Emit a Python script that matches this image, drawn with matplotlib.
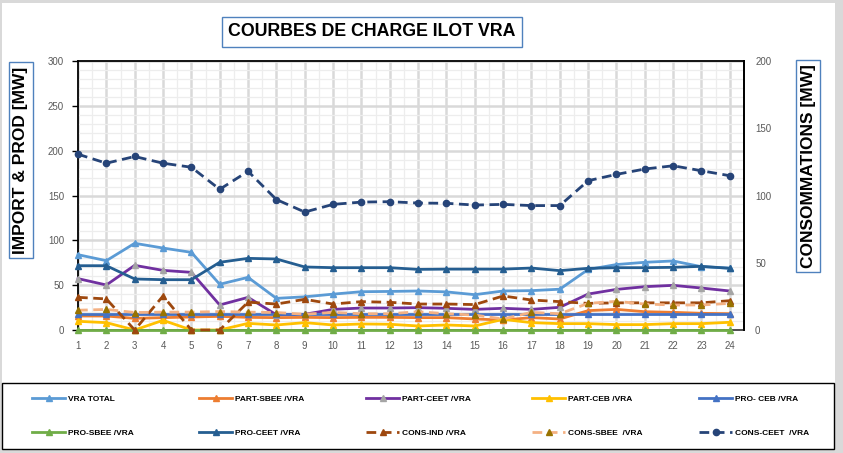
import matplotlib
matplotlib.use('Agg')
import matplotlib.pyplot as plt
from matplotlib.patches import Rectangle
import numpy as np

# ---------------- data ----------------
hours = list(range(1, 25))

vra_total = [84, 77.3, 96.7, 91.4, 86.6, 51, 58.7, 35.3, 37, 40, 42.7, 43, 43.5, 42.5,
             39.4, 43.5, 43.9, 45.5, 67.5, 73, 75.5, 77, 70.6, 69]
part_sbee = [15.6, 15.6, 13, 13.8, 14.5, 15.2, 14.1, 13.8, 14.1, 13.8, 14.1, 14.1, 13.8, 13.8,
             12.3, 11.1, 13.8, 12.3, 21.6, 23, 20.4, 19.7, 18.6, 18.2]
part_ceet = [57.3, 50.2, 72.1, 66.5, 64.3, 27.9, 36.4, 17, 17.5, 23, 24.5, 24.5, 24.9, 24.2,
             23, 24.2, 23, 25.3, 40.1, 45.3, 48.3, 49.8, 46.8, 43.5]
part_ceb = [9.7, 8.2, 0, 10.8, 0, 0, 7.4, 5.6, 8.2, 5.6, 6.7, 6.4, 4.5, 5.6,
            4.5, 11.9, 8.2, 7.1, 7.1, 6, 6, 7.1, 7.1, 8.6]
pro_ceb = [17.5, 17.5, 17.5, 17.5, 17.5, 17.5, 17.5, 17.5, 17.5, 17.5, 17.5, 17.5, 17.5, 17.5,
           17.5, 17.5, 17.5, 17.5, 17.5, 17.5, 17.5, 17.5, 17.5, 17.5]
pro_sbee = [0, 0, 0, 0, 0, 0, 0, 0, 0, 0, 0, 0, 0, 0, 0, 0, 0, 0, 0, 0, 0, 0, 0, 0]
pro_ceet = [71.7, 71.7, 56.9, 56.1, 56.1, 75.5, 79.9, 79.2, 70.3, 69.5, 69.5, 69.5, 67.6, 67.9,
            67.9, 67.9, 69.1, 66.2, 68.8, 69.5, 69.5, 69.9, 71, 68.8]

# secondary axis (consommations)
cons_ind = [24.3, 23.1, 0, 25.3, 0, 0, 20.7, 19.3, 22.8, 19.3, 21.1, 20.6, 19.3, 19.3,
            18.9, 25.3, 22.3, 21.1, 19.8, 20.2, 20.2, 20.2, 20.2, 21.8]
cons_sbee = [14.7, 15.3, 13, 13.3, 13.3, 13.7, 13.3, 13, 11.7, 13.1, 12.1, 12.1, 13.6, 12.1,
             11.1, 8.2, 13.1, 12.1, 19.8, 21.3, 19.3, 18.6, 18.6, 19.8]
cons_ceet = [130.7, 124, 129, 124, 121, 104.6, 118, 97, 87.7, 93.4, 95.1, 95.4, 94.4, 94.2,
             92.9, 93.4, 92.5, 92.5, 111, 115.7, 119.7, 122.1, 118.4, 114.7]

labels = ['VRA TOTAL', 'PART-SBEE /VRA', 'PART-CEET /VRA', 'PART-CEB /VRA', 'PRO- CEB /VRA',
          'PRO-SBEE /VRA', 'PRO-CEET /VRA', 'CONS-IND /VRA', 'CONS-SBEE  /VRA', 'CONS-CEET  /VRA']
left_ticks = [0, 50, 100, 150, 200, 250, 300]
right_ticks = [0, 50, 100, 150, 200]

title = 'COURBES DE CHARGE ILOT VRA'
ylabel_left = 'IMPORT & PROD [MW]'
ylabel_right = 'CONSOMMATIONS [MW]'

# ---------------- figure ----------------
plt.rcParams['font.family'] = ['Liberation Sans', 'DejaVu Sans']
W, H = 843, 453
fig = plt.figure(figsize=(W / 100, H / 100), dpi=100, facecolor='#D9D9D9')

def fx(px):
    return px / W

def fy(py):
    return 1 - py / H

fig.patches.append(Rectangle((fx(2), fy(449)), fx(833), 446 / H, transform=fig.transFigure,
                             facecolor='white', edgecolor='none', zorder=-10))
# legend frame
fig.patches.append(Rectangle((fx(2), fy(449)), fx(832), 66 / H, transform=fig.transFigure,
                             facecolor='none', edgecolor='black', lw=1.0, zorder=-5))

ax = fig.add_axes([fx(78), fy(330), (744 - 78) / W, (330 - 61) / H])
ax.set_facecolor('white')
ax2 = ax.twinx()

lw = 2.0
ms = 4.5
dash = (3.5, 2.0)

styles_left = [
    (vra_total, dict(color='#5B9BD5', marker='^', mfc='#5B9BD5', mec='#5B9BD5')),
    (part_sbee, dict(color='#ED7D31', marker='^', mfc='#ED7D31', mec='#ED7D31')),
    (part_ceet, dict(color='#7030A0', marker='^', mfc='#A5A5A5', mec='#A5A5A5')),
    (part_ceb, dict(color='#FFC000', marker='^', mfc='#FFC000', mec='#FFC000')),
    (pro_ceb, dict(color='#4472C4', marker='^', mfc='#4472C4', mec='#4472C4')),
    (pro_sbee, dict(color='#70AD47', marker='^', mfc='#70AD47', mec='#70AD47')),
    (pro_ceet, dict(color='#255E91', marker='^', mfc='#255E91', mec='#255E91')),
]
styles_right = [
    (cons_ind, dict(color='#9E480E', marker='^', mfc='#9E480E', mec='#9E480E', dashes=dash)),
    (cons_sbee, dict(color='#F4B183', marker='^', mfc='#997300', mec='#997300', dashes=dash)),
    (cons_ceet, dict(color='#264478', marker='o', mfc='#264478', mec='#264478', dashes=dash)),
]

handles = []
for (vals, st), lab in zip(styles_left, labels[:7]):
    h, = ax.plot(hours, vals, lw=lw, ms=ms, label=lab, clip_on=False, zorder=3, **st)
    handles.append(h)
for (vals, st), lab in zip(styles_right, labels[7:]):
    h, = ax2.plot(hours, vals, lw=lw, ms=ms, label=lab, clip_on=False, zorder=3, **st)
    handles.append(h)

ax.set_xlim(1, 24.5)
ax.set_ylim(0, 300)
ax2.set_ylim(0, 200)

ax.set_xticks(hours)
ax.set_xticks(np.arange(1.5, 24.5, 1), minor=True)
ax.set_yticks(left_ticks)
ax.set_yticks(np.arange(0, 301, 10), minor=True)
ax2.set_yticks(right_ticks)

ax.grid(True, which='major', color='#D9D9D9', lw=1.8, zorder=0)
ax.grid(True, which='minor', color='#EDEDED', lw=0.9, zorder=0)
ax.set_axisbelow(True)

tick_color = '#595959'
ax.tick_params(axis='x', which='both', length=0, pad=8, labelsize=7, labelcolor=tick_color)
ax.tick_params(axis='y', which='major', length=4, width=1, color='black', pad=6,
               labelsize=7, labelcolor=tick_color)
ax.tick_params(axis='y', which='minor', length=0)
ax2.tick_params(axis='y', which='both', length=0, pad=8, labelsize=7, labelcolor=tick_color)

for s in ax.spines.values():
    s.set_color('black')
    s.set_linewidth(1.3)
ax.spines['bottom'].set_color('#404040')
for name, s in ax2.spines.items():
    if name == 'right':
        s.set_color('black')
        s.set_linewidth(1.3)
    else:
        s.set_visible(False)

# title and axis labels in boxes
box = dict(boxstyle='square,pad=0.35', fc='white', ec='#4F81BD', lw=1.0)
fig.text(fx(372), fy(32), title, ha='center', va='center', fontsize=12.8, fontweight='bold',
         bbox=box)
fig.text(fx(21), fy(160), ylabel_left, rotation=90, ha='center', va='center', fontsize=12.5,
         fontweight='bold', bbox=dict(boxstyle='square,pad=0.25', fc='white', ec='#4F81BD', lw=1.0))
fig.text(fx(808), fy(166), ylabel_right, rotation=90, ha='center', va='center', fontsize=12.5,
         fontweight='bold', bbox=dict(boxstyle='square,pad=0.25', fc='white', ec='#4F81BD', lw=1.0))

# legend: 5 columns x 2 rows
col_x = [32, 199, 366, 532, 699]
for c in range(5):
    fig.legend(handles=[handles[c], handles[c + 5]], labels=[labels[c], labels[c + 5]],
               loc='upper left', bbox_to_anchor=(fx(col_x[c]), fy(395)), frameon=False,
               handlelength=4, handletextpad=0.35, labelspacing=3.2, borderpad=0,
               borderaxespad=0, numpoints=1, prop=dict(weight='bold', size=6))

fig.savefig('out.png', dpi=100, facecolor=fig.get_facecolor())
